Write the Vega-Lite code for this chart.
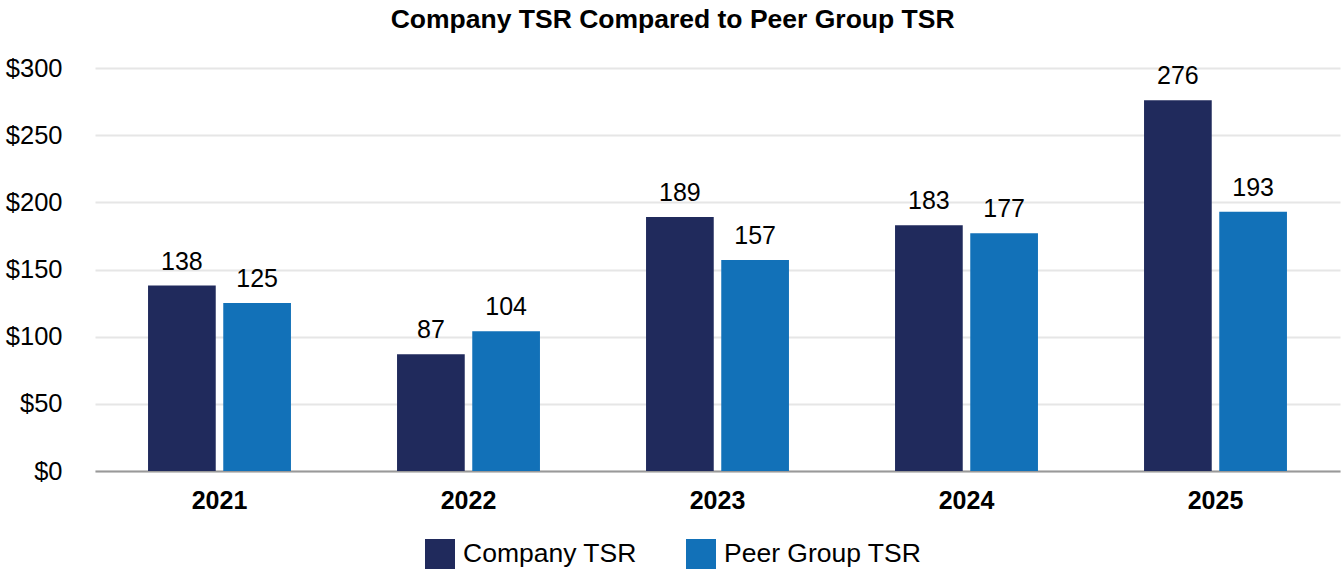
{
  "$schema": "https://vega.github.io/schema/vega-lite/v6.json",
  "autosize": {"type": "none"},
  "width": 1245,
  "height": 403,
  "padding": {"left": 95, "right": 4, "top": 68, "bottom": 105},
  "background": "white",
  "title": {
    "text": "Company TSR Compared to Peer Group TSR",
    "font": "Liberation Sans",
    "fontSize": 26.5,
    "fontWeight": "bold",
    "color": "#000000",
    "anchor": "middle",
    "frame": "bounds",
    "offset": 23
  },
  "config": {
    "view": {"stroke": null},
    "font": "Liberation Sans"
  },
  "data": {
    "values": [
      {"year": "2021", "series": "Company TSR", "value": 138},
      {"year": "2021", "series": "Peer Group TSR", "value": 125},
      {"year": "2022", "series": "Company TSR", "value": 87},
      {"year": "2022", "series": "Peer Group TSR", "value": 104},
      {"year": "2023", "series": "Company TSR", "value": 189},
      {"year": "2023", "series": "Peer Group TSR", "value": 157},
      {"year": "2024", "series": "Company TSR", "value": 183},
      {"year": "2024", "series": "Peer Group TSR", "value": 177},
      {"year": "2025", "series": "Company TSR", "value": 276},
      {"year": "2025", "series": "Peer Group TSR", "value": 193}
    ]
  },
  "encoding": {
    "x": {
      "field": "year",
      "type": "nominal",
      "title": null,
      "scale": {"paddingInner": 0.426, "paddingOuter": 0.213},
      "axis": {
        "labelAngle": 0,
        "labelFontSize": 25,
        "labelFontWeight": "bold",
        "labelColor": "#000000",
        "labelPadding": 17,
        "ticks": false,
        "domain": true,
        "domainColor": "#999999",
        "domainWidth": 2
      }
    },
    "xOffset": {
      "field": "series",
      "type": "nominal",
      "scale": {"paddingInner": 0.1}
    },
    "y": {
      "field": "value",
      "type": "quantitative",
      "title": null,
      "scale": {"domain": [0, 300]},
      "axis": {
        "values": [0, 50, 100, 150, 200, 250, 300],
        "labelExpr": "'$' + datum.value",
        "labelFontSize": 25.5,
        "labelColor": "#000000",
        "labelPadding": 33,
        "ticks": false,
        "domain": false,
        "gridColor": "#e6e6e6",
        "gridWidth": 2
      }
    }
  },
  "layer": [
    {
      "mark": {"type": "bar"},
      "encoding": {
        "color": {
          "field": "series",
          "type": "nominal",
          "scale": {"domain": ["Company TSR", "Peer Group TSR"], "range": ["#202A5C", "#1271B8"]},
          "legend": {
            "title": null,
            "orient": "none",
            "legendX": 330,
            "legendY": 471,
            "direction": "horizontal",
            "symbolType": "square",
            "symbolSize": 900,
            "symbolStrokeWidth": 0,
            "labelFontSize": 26.5,
            "labelColor": "#000000",
            "labelOffset": 8,
            "labelLimit": 400,
            "columnPadding": 49
          }
        }
      }
    },
    {
      "mark": {"type": "text", "baseline": "alphabetic", "dy": -16, "fontSize": 25, "color": "#000000"},
      "encoding": {
        "text": {"field": "value", "type": "quantitative"}
      }
    }
  ]
}
